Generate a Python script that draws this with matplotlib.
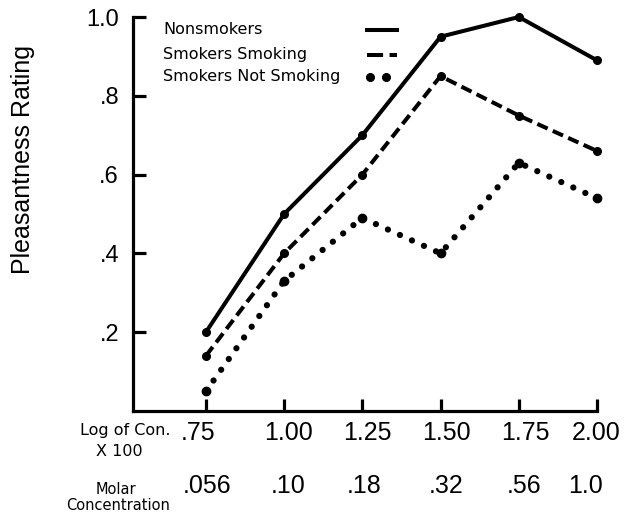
import matplotlib
matplotlib.use("Agg")
import matplotlib.pyplot as plt
from matplotlib.lines import Line2D

plt.rcParams['font.family'] = ['Liberation Sans', 'DejaVu Sans']

# Concentration steps (log of concentration x 100) and matching molarities
log_conc = [0.75, 1.00, 1.25, 1.50, 1.75, 2.00]
log_labels = ['.75', '1.00', '1.25', '1.50', '1.75', '2.00']
molar_labels = ['.056', '.10', '.18', '.32', '.56', '1.0']

# Mean pleasantness ratings per group
nonsmokers = [0.20, 0.50, 0.70, 0.95, 1.00, 0.89]
smokers_smoking = [0.14, 0.40, 0.60, 0.85, 0.75, 0.66]
smokers_not_smoking = [0.05, 0.33, 0.49, 0.40, 0.63, 0.54]

y_ticks = [0.2, 0.4, 0.6, 0.8, 1.0]
y_labels = ['.2', '.4', '.6', '.8', '1.0']

W, H = 629, 512
fig = plt.figure(figsize=(W / 100, H / 100), dpi=100)
ax = fig.add_axes([133 / W, 1 - 411 / H, (597 - 133) / W, (411 - 17) / H])

ax.set_xlim(0.517, 2.0)
ax.set_ylim(0, 1.0)

for side in ('top', 'right'):
    ax.spines[side].set_visible(False)
for side in ('left', 'bottom'):
    ax.spines[side].set_linewidth(2.3)

ax.set_xticks(log_conc)
ax.set_xticklabels([])
ax.set_yticks(y_ticks)
ax.set_yticklabels(y_labels, fontsize=17)
ax.tick_params(axis='both', direction='in', length=9, width=2.3, pad=10)

lw = 2.9
ax.plot(log_conc, nonsmokers, color='black', lw=lw, marker='o', ms=5.5,
        solid_capstyle='round', clip_on=False)
ax.plot(log_conc, smokers_smoking, color='black', lw=lw, marker='o', ms=5.5,
        linestyle=(0, (2.8, 1.4)), clip_on=False)
ax.plot(log_conc, smokers_not_smoking, color='black', lw=4.5,
        linestyle=(0, (0.01, 2.1)), dash_capstyle='round', clip_on=False)
ax.plot(log_conc, smokers_not_smoking, color='black', lw=0, marker='o', ms=6,
        clip_on=False)

# Two rows of labels under the x axis
nudge_row1 = [-8, 4, 5, 6, 7, -1]
nudge_row2 = [1, 4, 2, 6, 5, -11]
for x, lab, dx in zip(log_conc, log_labels, nudge_row1):
    ax.annotate(lab, xy=(x, 0), xycoords=('data', 'axes fraction'),
                xytext=(dx * 0.72, -16), textcoords='offset points',
                ha='center', va='center', fontsize=18)
for x, lab, dx in zip(log_conc, molar_labels, nudge_row2):
    ax.annotate(lab, xy=(x, 0), xycoords=('data', 'axes fraction'),
                xytext=(dx * 0.72, -54), textcoords='offset points',
                ha='center', va='center', fontsize=18)

small = dict(family='DejaVu Sans', fontsize=11.5)
fig.text(171 / W, 1 - 430 / H, 'Log of Con.', ha='right', va='center', **small)
fig.text(119 / W, 1 - 451 / H, 'X 100', ha='center', va='center', **small)
fig.text(116 / W, 1 - 489 / H, 'Molar', ha='center', va='center',
         family='DejaVu Sans', fontsize=10.5)
fig.text(118 / W, 1 - 505 / H, 'Concentration', ha='center', va='center',
         family='DejaVu Sans', fontsize=10.5)

fig.text(23 / W, 1 - 160 / H, 'Pleasantness Rating', rotation=90,
         ha='center', va='center', fontsize=18)

# Key
key_names = ['Nonsmokers', 'Smokers Smoking', 'Smokers Not Smoking']
key_y = [30, 54, 77]
for name, yy in zip(key_names, key_y):
    fig.text(163 / W, 1 - yy / H, name, ha='left', va='center', **small)

fig.add_artist(Line2D([367 / W, 397 / W], [1 - 30 / H] * 2, color='black', lw=lw))
fig.add_artist(Line2D([367 / W, 397 / W], [1 - 55 / H] * 2, color='black', lw=lw,
                      linestyle=(0, (4.0, 1.6))))
fig.add_artist(Line2D([370 / W, 386 / W], [1 - 77 / H] * 2, color='black', lw=0,
                      marker='o', ms=5.5))

fig.savefig('out.png', dpi=100)
